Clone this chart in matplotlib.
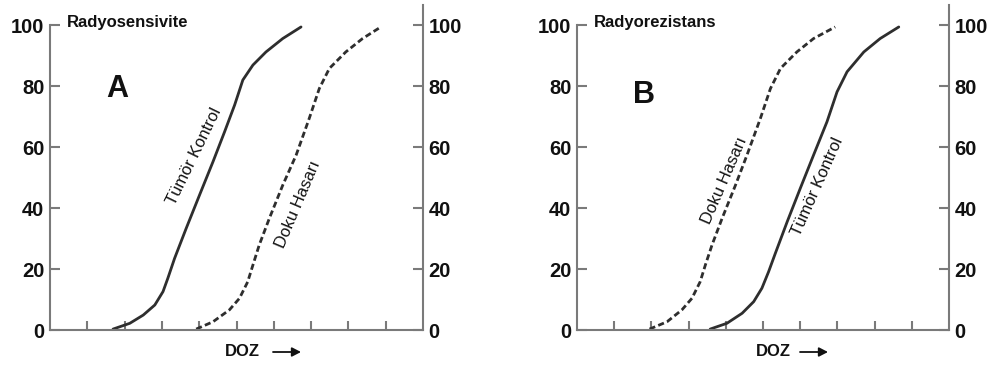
import matplotlib
matplotlib.use("Agg")
import matplotlib.pyplot as plt
from matplotlib.patches import FancyArrowPatch

plt.rcParams['font.family'] = ['Liberation Sans', 'DejaVu Sans']

# Panel A (Radyosensivite)
a_tumor_x = [1.69, 2.14, 2.50, 2.81, 3.03, 3.16, 3.34, 3.65, 4.01, 4.37, 4.68, 4.95, 5.17, 5.44, 5.79, 6.24, 6.73]
a_tumor_y = [0.3, 2.2, 4.9, 8.2, 12.6, 17.0, 23.5, 33.3, 44.3, 55.2, 65.0, 73.8, 82.0, 86.9, 91.2, 95.6, 99.4]
a_doku_x = [3.92, 4.37, 4.81, 5.08, 5.30, 5.44, 5.61, 5.88, 6.24, 6.60, 6.95, 7.22, 7.49, 7.93, 8.38, 8.87]
a_doku_y = [0.3, 2.7, 6.6, 10.4, 15.8, 21.3, 27.9, 36.6, 47.5, 57.4, 69.4, 79.2, 85.8, 91.2, 95.6, 99.4]

# Panel B (Radyorezistans)
b_doku_x = [1.95, 2.42, 2.82, 3.09, 3.31, 3.45, 3.63, 3.90, 4.26, 4.57, 4.93, 5.20, 5.47, 5.91, 6.36, 6.94]
b_doku_y = [0.3, 2.7, 6.6, 10.4, 15.8, 21.3, 27.9, 36.6, 47.5, 57.4, 69.4, 79.2, 85.8, 91.2, 95.6, 99.4]
b_tumor_x = [3.58, 4.03, 4.44, 4.75, 4.97, 5.15, 5.33, 5.65, 6.00, 6.36, 6.72, 6.99, 7.26, 7.71, 8.15, 8.65]
b_tumor_y = [0.3, 2.2, 5.5, 9.3, 13.7, 19.1, 25.1, 35.5, 46.4, 57.4, 68.3, 78.1, 84.7, 91.2, 95.6, 99.4]

y_ticks = [0, 20, 40, 60, 80, 100]
x_ticks = [1, 2, 3, 4, 5, 6, 7, 8, 9]

W, H = 988, 365
fig = plt.figure(figsize=(W / 100, H / 100), dpi=100)

line_col = '#2e2e2e'
spine_col = '#7a7a7a'
text_col = '#111111'

def make_axes(left_px, right_px):
    ax = fig.add_axes([left_px / W, 1 - 330 / H, (right_px - left_px) / W, (330 - 5) / H])
    ax.set_xlim(0, 10)
    ax.set_ylim(0, 106.6)
    ax.spines['top'].set_visible(False)
    for s in ['left', 'right', 'bottom']:
        ax.spines[s].set_color(spine_col)
        ax.spines[s].set_linewidth(1.5)
    ax.spines['left'].set_bounds(0, 100)
    ax.set_yticks(y_ticks)
    ax.set_xticks(x_ticks)
    ax.set_xticklabels([])
    ax.tick_params(axis='y', direction='in', length=7, width=1.5, color=spine_col,
                   left=True, right=True, labelleft=True, labelright=True,
                   labelsize=14.5, pad=4)
    ax.tick_params(axis='x', direction='in', length=6.5, width=1.5, color=spine_col)
    for lab in ax.get_yticklabels():
        lab.set_fontweight('bold')
        lab.set_color(text_col)
    return ax

style = dict(color=line_col, lw=2.0, solid_joinstyle='round', solid_capstyle='round',
             dash_joinstyle='round')

axA = make_axes(50, 423)
axA.plot(a_tumor_x, a_tumor_y, **style)
axA.plot(a_doku_x, a_doku_y, linestyle=(0, (2.2, 1.2)), **style)

axB = make_axes(577, 949)
axB.plot(b_doku_x, b_doku_y, linestyle=(0, (2.2, 1.2)), **style)
axB.plot(b_tumor_x, b_tumor_y, **style)

def ftext(x, y, s, **kw):
    fig.text(x / W, 1 - y / H, s, **kw)

ftext(67, 23, 'Radyosensivite', fontsize=12, fontweight='bold', va='center', ha='left', color=text_col)
ftext(594, 22, 'Radyorezistans', fontsize=12, fontweight='bold', va='center', ha='left', color=text_col)
ftext(117, 89, 'A', fontsize=22, fontweight='bold', va='center', ha='center', color=text_col)
ftext(644, 95, 'B', fontsize=22, fontweight='bold', va='center', ha='center', color=text_col)

ftext(194, 156, 'Tümör Kontrol', fontsize=12, rotation=64, va='center', ha='center',
      rotation_mode='anchor', color=text_col)
ftext(298, 204, 'Doku Hasarı', fontsize=12, rotation=67, va='center', ha='center',
      rotation_mode='anchor', color=text_col)
ftext(724, 181, 'Doku Hasarı', fontsize=12, rotation=66.5, va='center', ha='center',
      rotation_mode='anchor', color=text_col)
ftext(817, 187, 'Tümör Kontrol', fontsize=12, rotation=66, va='center', ha='center',
      rotation_mode='anchor', color=text_col)

for dx, a0, a1 in [(225, 273, 301), (756, 800, 828)]:
    ftext(dx, 352, 'DOZ', fontsize=12, fontweight='bold', va='center', ha='left', color=text_col)
    fig.add_artist(FancyArrowPatch(
        (a0 / W, 1 - 352 / H), (a1 / W, 1 - 352 / H), transform=fig.transFigure,
        arrowstyle='-|>,head_length=3.5,head_width=1.8', mutation_scale=1.5,
        color=text_col, lw=1.3, shrinkA=0, shrinkB=0))

fig.savefig('out.png', dpi=100, facecolor='white')
